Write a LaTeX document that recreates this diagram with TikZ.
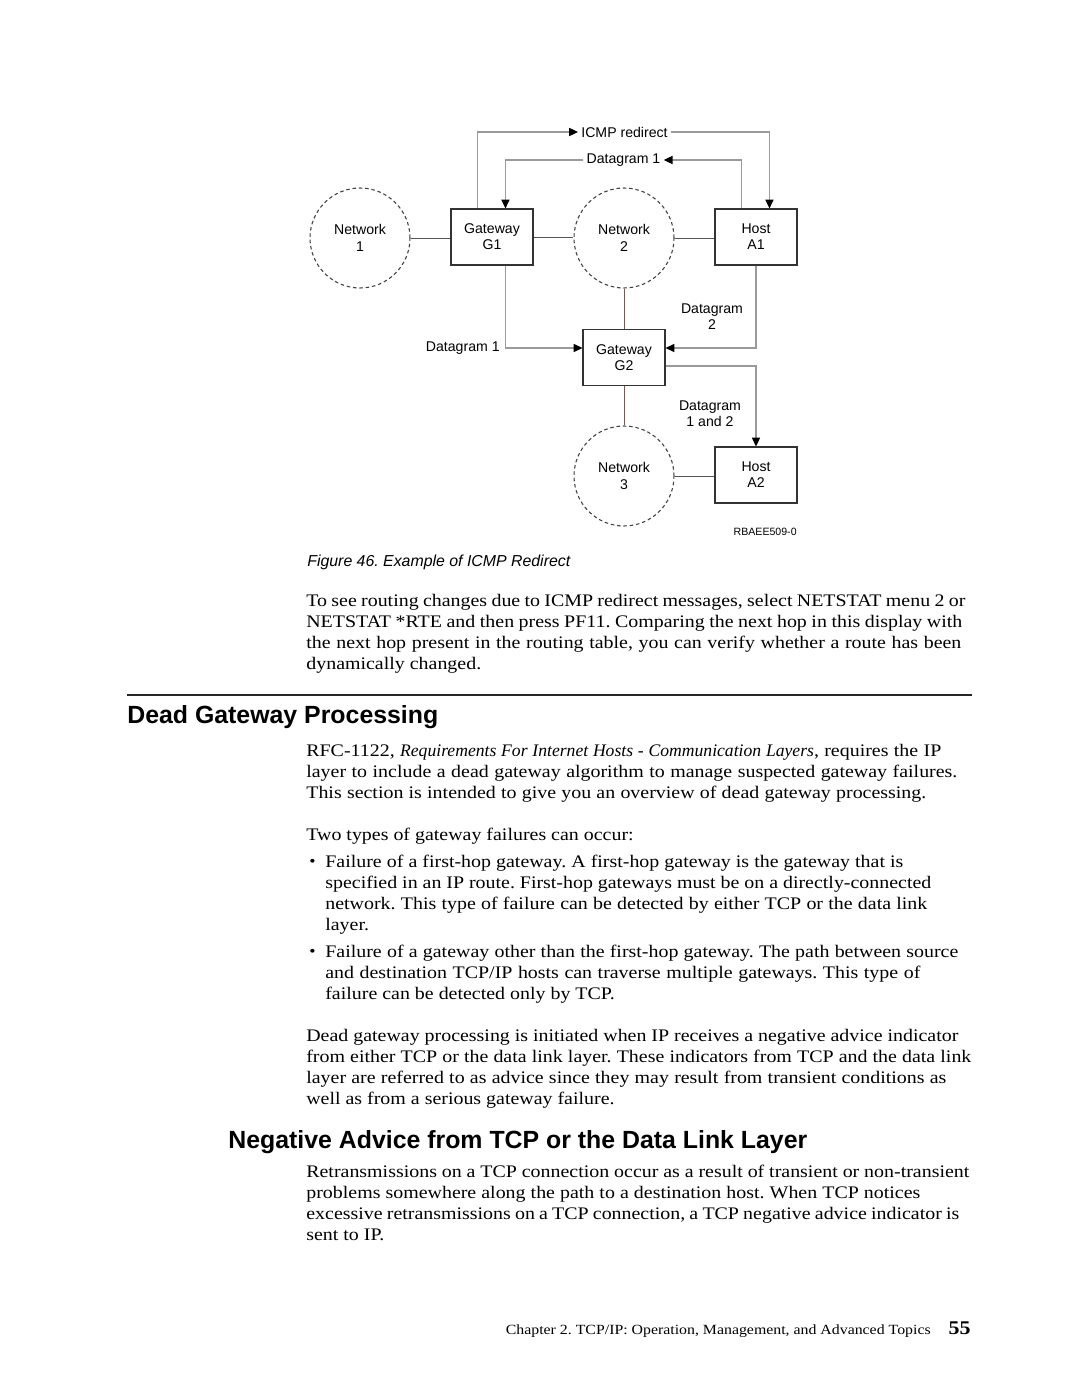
\documentclass[tikz,border=0pt]{standalone}
\usepackage{fontspec}
\setmainfont[FakeStretch=1.13]{Liberation Serif}
\newfontfamily\itf[FakeStretch=1.0]{Liberation Serif}
\setsansfont{Liberation Sans}
\usetikzlibrary{arrows.meta,calc}
\definecolor{lnk}{HTML}{555555}
\definecolor{flowc}{HTML}{9A9A9A}
\definecolor{rust}{HTML}{8A5050}
\newcommand\dfont{\sffamily\fontsize{8}{9.2}\selectfont}
\newcommand\tl[3]{\node[body] (#1) at (#2) {#3};}
\newcommand\tj[5]{\pgfmathsetmacro\lnw{(#4-#2)*0.567}\node[body] (#1) at (#2,#3) {\makebox[\lnw pt][s]{#5}};}
\begin{document}
\frenchspacing
\begin{tikzpicture}[x=0.567pt,y=-0.567pt,
  box/.style={draw=black!80,line width=0.6pt,minimum width={82*0.567pt},minimum height={56*0.567pt},inner sep=0pt,align=center,font=\dfont},
  net/.style={circle,draw=black!75,dash pattern=on 2pt off 1.6pt,line width=0.6pt,minimum size={100*0.567pt},inner sep=0pt,align=center,font=\dfont},
  lbl/.style={inner sep={3*0.567pt},align=center,font=\dfont},
  link/.style={draw=lnk,line width=0.5pt},
  flow/.style={draw=flowc,line width=0.7pt,-{Triangle[length=5pt,width=4.6pt,color=black]}},
  body/.style={anchor=base west,inner sep=0pt,font=\fontsize{10}{12}\selectfont},
  bul/.style={anchor=base west,inner sep=0pt,font=\fontsize{9}{12}\selectfont},
  head/.style={anchor=base west,inner sep=0pt,font=\sffamily\bfseries\fontsize{14.1}{16}\selectfont},
]
\useasboundingbox (0,0) rectangle (1080,1397);
\fill[white] (0,0) rectangle (1080,1397);

% ---------- diagram ----------
\node[net] (n1) at (360,238) {Network\\1};
\node[box] (g1) at (492,237) {Gateway\\G1};
\node[net] (n2) at (624,238) {Network\\2};
\node[box] (a1) at (756,237) {Host\\A1};
\node[box] (g2) at (624,357.5) {Gateway\\G2};
\node[net] (n3) at (624,476) {Network\\3};
\node[box] (a2) at (756,475) {Host\\A2};

\node[lbl] (icmp) at (624.5,132) {ICMP redirect};
\node[lbl] (d1t) at (623.5,160) {Datagram 1};
\node[lbl,anchor=east] (d1l) at (503,348) {Datagram 1};
\node[lbl] (d2) at (712,317) {Datagram\\2};
\node[lbl] (d12) at (710,414) {Datagram\\1 and 2};
\node[font=\sffamily\fontsize{6}{7}\selectfont,anchor=east,inner sep=0pt] (rb) at (797,532) {RBAEE509-0};
\node[anchor=base west,inner sep=0pt,font=\sffamily\itshape\fontsize{9}{11}\selectfont] (cap) at (307,566) {Figure 46. Example of ICMP Redirect};

\draw[link] (n1.east) -- (n1.east -| g1.west);
\draw[link] (g1.east) -- (g1.east -| n2.west);
\draw[link] (n2.east) -- (n2.east -| a1.west);
\draw[link,draw=rust] (n2.south) -- (g2.north);
\draw[link,draw=rust] (g2.south) -- (n3.north);
\draw[link] (n3.east) -- (n3.east -| a2.west);

\draw[flow] ($(g1.north west)+(27,0)$) |- (icmp.west);
\draw[flow] (icmp.east) -| ($(a1.north west)+(55,0)$);
\draw[flow] ($(a1.north west)+(27,0)$) |- (d1t.east);
\draw[flow] (d1t.west) -| ($(g1.north west)+(55,0)$);
\draw[flow] ($(g1.south west)+(55,0)$) |- ($(g2.west)+(0,-9.5)$);
\draw[flow] (a1.south) |- ($(g2.east)+(0,-9.5)$);
\draw[flow] ($(g2.east)+(0,8.5)$) -| (a2.north);

% ---------- text ----------
\tj{p1a}{306}{606}{965}{To see routing changes due to ICMP redirect messages, select NETSTAT menu 2 or}
\tj{p1b}{306}{627}{962}{NETSTAT *RTE and then press PF11. Comparing the next hop in this display with}
\tj{p1c}{306}{648}{961}{the next hop present in the routing table, you can verify whether a route has been}
\tl{p1d}{306,669}{dynamically changed.}

\draw[line width=0.7pt,black!85] (127,695) -- (972,695);
\node[head] (h1) at (127,723) {Dead Gateway Processing};

\tj{p2a}{306}{756}{941}{RFC-1122, {\itf\itshape Requirements For Internet Hosts - Communication Layers}, requires the IP}
\tj{p2b}{306}{777}{957}{layer to include a dead gateway algorithm to manage suspected gateway failures.}
\tj{p2c}{306}{798}{926}{This section is intended to give you an overview of dead gateway processing.}

\tl{p3}{306,840}{Two types of gateway failures can occur:}
\node[bul] (b1) at (309,866) {•};
\tj{b1a}{325}{867}{903}{Failure of a first-hop gateway. A first-hop gateway is the gateway that is}
\tj{b1b}{325}{888}{931}{specified in an IP route. First-hop gateways must be on a directly-connected}
\tj{b1c}{325}{909}{927}{network. This type of failure can be detected by either TCP or the data link}
\tl{b1d}{325,930}{layer.}
\node[bul] (b2) at (309,956) {•};
\tj{b2a}{325}{957}{958}{Failure of a gateway other than the first-hop gateway. The path between source}
\tj{b2b}{325}{978}{920}{and destination TCP/IP hosts can traverse multiple gateways. This type of}
\tl{b2c}{325,999}{failure can be detected only by TCP.}

\tj{p4a}{306}{1041}{958}{Dead gateway processing is initiated when IP receives a negative advice indicator}
\tj{p4b}{306}{1062}{971}{from either TCP or the data link layer. These indicators from TCP and the data link}
\tj{p4c}{306}{1083}{946}{layer are referred to as advice since they may result from transient conditions as}
\tl{p4d}{306,1104}{well as from a serious gateway failure.}

\node[head] (h2) at (228,1148) {Negative Advice from TCP or the Data Link Layer};

\tj{p5a}{306}{1177}{969}{Retransmissions on a TCP connection occur as a result of transient or non-transient}
\tj{p5b}{306}{1198}{920}{problems somewhere along the path to a destination host. When TCP notices}
\tj{p5c}{306}{1219}{959}{excessive retransmissions on a TCP connection, a TCP negative advice indicator is}
\tl{p5d}{306,1240}{sent to IP.}

\node[anchor=base east,inner sep=0pt,font=\fontsize{7.95}{10}\selectfont] (foot) at (931,1334) {Chapter 2. TCP/IP: Operation, Management, and Advanced Topics};
\node[anchor=base east,inner sep=0pt,font=\bfseries\fontsize{11}{12}\selectfont] (pg) at (971,1334) {55};
\end{tikzpicture}
\end{document}
